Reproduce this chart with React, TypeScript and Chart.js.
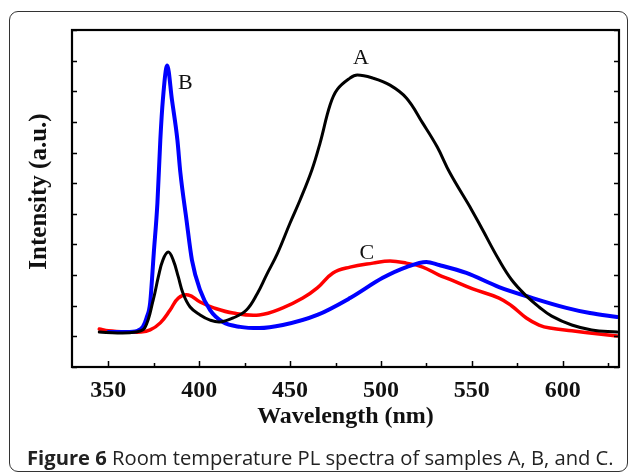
import React, { useEffect, useRef } from 'react';
import { Chart, registerables } from 'chart.js';

Chart.register(...registerables);

// Sample A (black)
const A_WL = [345, 355, 365, 370, 374.7, 377.5, 380, 383, 385.7, 388.5, 391, 395, 400.5, 406, 411.5, 418.7, 426, 432, 437, 443, 450, 455.5, 462, 466.5, 472, 476, 483, 487, 495.6, 505, 514, 523, 531, 538, 550, 556, 565, 572, 580, 587, 594, 605, 616, 630];
const A_I = [11.4, 11.1, 11.4, 12.7, 21.9, 29.4, 34.9, 37.5, 34.9, 29.4, 24.2, 19.6, 17, 15.3, 14.7, 16, 18.6, 24, 30, 37, 47, 54.5, 64.3, 73.1, 85.5, 90.6, 94.3, 95.3, 94.3, 92, 87.8, 79.6, 71.8, 63.3, 51.2, 44.7, 34.9, 28.4, 23.2, 19.6, 16.6, 13.7, 12.1, 11.4];

// Sample B (blue)
const B_WL = [350, 360, 366, 369, 371, 373, 375, 377, 378.6, 380, 382.4, 385, 388, 389.6, 393, 396, 400.5, 406, 413, 422.5, 433, 446, 465, 483, 501, 514, 525, 532, 547, 565, 583.5, 602, 615, 630];
const B_I = [11.4, 11.4, 11.8, 13.1, 16, 20.9, 37.2, 53.5, 74.1, 87.2, 98.4, 87.2, 74.1, 63.6, 48, 34.9, 25.1, 18.6, 14.7, 13.1, 12.7, 13.7, 17, 22.5, 29.1, 32.6, 34.3, 33.3, 30.7, 26.1, 22.5, 19.3, 17.6, 16.3];

// Sample C (red)
const C_WL = [345, 350, 360, 367.6, 373, 378.6, 384, 388.5, 394, 400.5, 408, 418.7, 433, 446, 457, 465, 473.6, 483, 495.6, 505, 514, 523, 532, 538, 550.5, 565, 572, 580, 587, 593, 605, 620, 630];
const C_I = [12.4, 11.8, 11.4, 11.4, 12.1, 14.4, 18.6, 22.5, 23.5, 21.2, 19.3, 17.6, 17, 19.3, 22.5, 25.8, 30.7, 32.6, 33.9, 34.6, 33.9, 32.6, 30, 28.6, 25.5, 22.5, 19.9, 16, 13.7, 12.7, 11.8, 10.8, 10.1];

// Axis ticks
const X_TICKS = [350, 400, 450, 500, 550, 600];
const X_MINOR = [375, 425, 475, 525, 575, 625];
const Y_TICKS = [0, 10, 20, 30, 40, 50, 60, 70, 80, 90, 100, 110];

// Curve labels (data coordinates)
const LABEL_TEXT = ['A', 'B', 'C'];
const LABEL_WL = [489, 392.3, 492.3];
const LABEL_I = [100.9, 92.7, 37.2];

const Y_TITLE = 'Intensity (a.u.)';
const X_TITLE = 'Wavelength (nm)';

const SERIF = "'Liberation Serif', 'Times New Roman', serif";

const toPts = (xs: number[], ys: number[]) => xs.map((x, i) => ({ x, y: ys[i] }));

export default function App() {
  const ref = useRef<HTMLCanvasElement>(null);

  useEffect(() => {
    if (!ref.current) return;
    const decor = {
      id: 'decor',
      afterDraw(chart: any) {
        const { ctx, chartArea: a, scales } = chart;
        const xs = scales.x;
        const ys = scales.y;
        ctx.save();
        ctx.strokeStyle = '#000';
        ctx.lineWidth = 1.5;
        ctx.beginPath();
        X_TICKS.forEach((v) => {
          const px = Math.round(xs.getPixelForValue(v)) + 0.5;
          ctx.moveTo(px, a.bottom);
          ctx.lineTo(px, a.bottom - 6);
        });
        X_MINOR.forEach((v) => {
          const px = Math.round(xs.getPixelForValue(v)) + 0.5;
          if (px < a.right - 1) {
            ctx.moveTo(px, a.bottom);
            ctx.lineTo(px, a.bottom - 4);
          }
        });
        Y_TICKS.forEach((v) => {
          const py = Math.round(ys.getPixelForValue(v)) + 0.5;
          ctx.moveTo(a.left, py);
          ctx.lineTo(a.left + 5, py);
          ctx.moveTo(a.right, py);
          ctx.lineTo(a.right - 5, py);
        });
        ctx.stroke();
        ctx.lineWidth = 2.2;
        ctx.strokeRect(a.left, a.top, a.right - a.left, a.bottom - a.top);
        ctx.fillStyle = '#111';
        ctx.font = `22px ${SERIF}`;
        ctx.textAlign = 'center';
        ctx.textBaseline = 'middle';
        LABEL_TEXT.forEach((t, i) => {
          ctx.fillText(t, xs.getPixelForValue(LABEL_WL[i]), ys.getPixelForValue(LABEL_I[i]));
        });
        // y-axis title
        ctx.save();
        ctx.translate(a.left - 32, (a.top + a.bottom) / 2 - 7);
        ctx.rotate(-Math.PI / 2);
        ctx.font = `bold 25px ${SERIF}`;
        ctx.fillText(Y_TITLE, 0, 0);
        ctx.restore();
        ctx.restore();
      },
    };

    const chart = new Chart(ref.current, {
      type: 'line',
      data: {
        datasets: [
          { label: 'A', data: toPts(A_WL, A_I), borderColor: '#000000', borderWidth: 3, tension: 0.4 },
          { label: 'B', data: toPts(B_WL, B_I), borderColor: '#0000ff', borderWidth: 4, cubicInterpolationMode: 'monotone' },
          { label: 'C', data: toPts(C_WL, C_I), borderColor: '#ff0000', borderWidth: 3.5, tension: 0.4 },
        ],
      },
      options: {
        responsive: false,
        animation: false,
        devicePixelRatio: 1,
        parsing: false,
        normalized: true,
        elements: {
          point: { radius: 0 },
          line: { fill: false, borderCapStyle: 'round', borderJoinStyle: 'round' },
        },
        layout: { padding: { left: 25, right: 10, top: 30, bottom: 41.6 } },
        plugins: { legend: { display: false }, tooltip: { enabled: false }, title: { display: false } },
        scales: {
          x: {
            type: 'linear',
            min: 330,
            max: 631,
            grid: { display: false, drawTicks: false },
            border: { display: false },
            afterBuildTicks: (s: any) => { s.ticks = X_TICKS.map((value) => ({ value })); },
            afterFit: (s: any) => { s.height = 64.4; },
            ticks: {
              color: '#111',
              padding: 9,
              maxRotation: 0,
              autoSkip: false,
              font: { family: SERIF, size: 24, weight: 'bold', lineHeight: 1.2 },
            },
            title: {
              display: true,
              text: X_TITLE,
              color: '#111',
              padding: 0,
              font: { family: SERIF, size: 24, weight: 'bold', lineHeight: 1.2 },
            },
          },
          y: {
            type: 'linear',
            min: 0,
            max: 110,
            grid: { display: false, drawTicks: false },
            border: { display: false },
            afterBuildTicks: (s: any) => { s.ticks = Y_TICKS.map((value) => ({ value })); },
            afterFit: (s: any) => { s.width = 47; },
            ticks: { display: false },
            title: { display: false },
          },
        },
      } as any,
      plugins: [decor],
    });
    return () => chart.destroy();
  }, []);

  return (
    <div style={{ position: 'fixed', left: 0, top: 0, width: 629, height: 473, background: '#fff', overflow: 'hidden' }}>
      <div
        style={{
          position: 'absolute',
          left: 9,
          top: 11,
          width: 619,
          height: 461,
          border: '1.5px solid #333',
          borderRadius: 9,
          boxSizing: 'border-box',
        }}
      />
      <canvas ref={ref} width={629} height={473} style={{ position: 'absolute', left: 0, top: 0 }} />
      <div
        style={{
          position: 'absolute',
          left: 27,
          top: 446,
          fontFamily: "'Open Sans', 'Noto Sans', sans-serif",
          fontSize: 20.2,
          lineHeight: '22px',
          color: '#222',
          whiteSpace: 'nowrap',
        }}
      >
        <b>Figure 6</b> Room temperature PL spectra of samples A, B, and C.
      </div>
    </div>
  );
}
